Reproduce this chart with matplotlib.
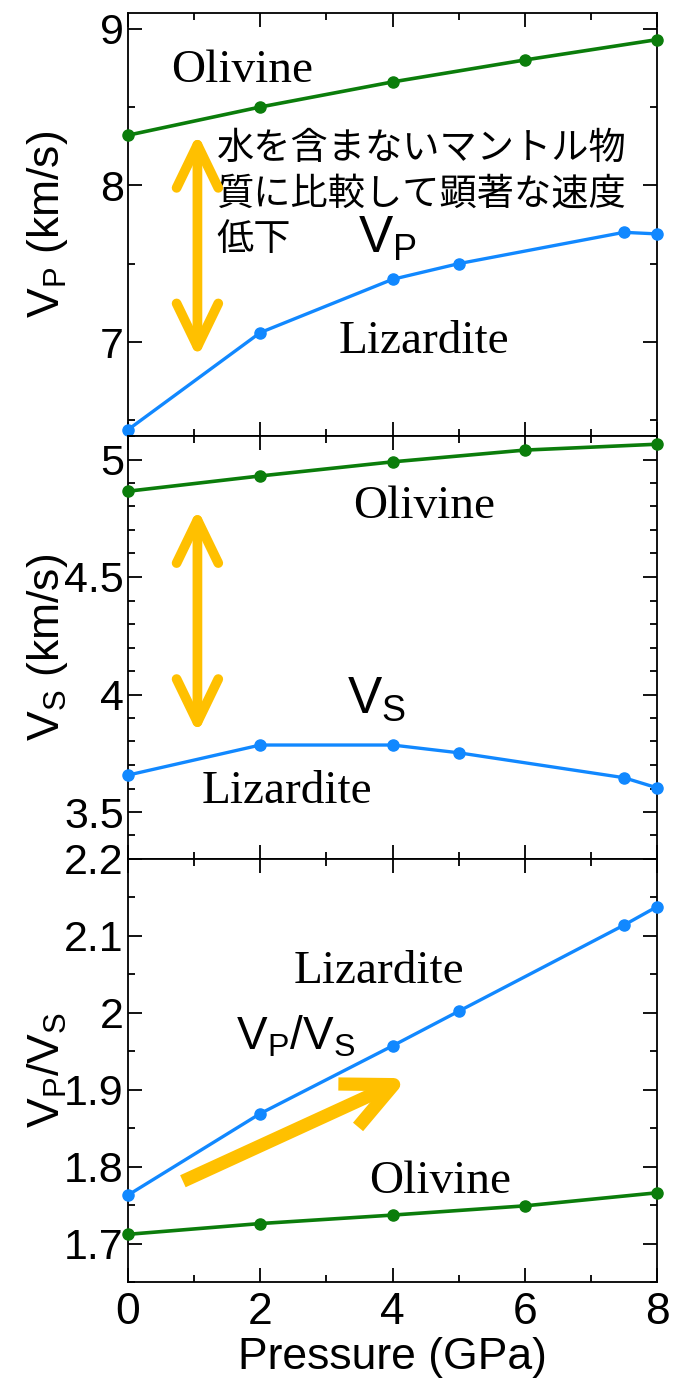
import matplotlib
matplotlib.use('Agg')
import matplotlib.pyplot as plt
from matplotlib.ticker import MultipleLocator, FixedLocator, FuncFormatter

plt.rcParams['font.family'] = ['Liberation Sans', 'DejaVu Sans']
plt.rcParams['mathtext.fontset'] = 'custom'
plt.rcParams['mathtext.rm'] = 'Liberation Sans'
plt.rcParams['mathtext.it'] = 'Liberation Sans:italic'

# data
pressure_ol = [0, 2, 4, 6, 8]
pressure_liz = [0, 2, 4, 5, 7.5, 8]

vp_ol = [8.32, 8.50, 8.66, 8.80, 8.93]
vp_liz = [6.44, 7.06, 7.40, 7.50, 7.70, 7.69]

vs_ol = [4.865, 4.93, 4.99, 5.04, 5.065]
vs_liz = [3.657, 3.785, 3.785, 3.752, 3.646, 3.603]

vpvs_ol = [1.712, 1.726, 1.737, 1.749, 1.766]
vpvs_liz = [1.763, 1.869, 1.957, 2.002, 2.114, 2.138]

note_lines = ['水を含まないマントル物', '質に比較して顕著な速度', '低下']

green = '#0b7d0b'
blue = '#1188ff'
gold = '#ffc000'
serif = 'Liberation Serif'
jp_font = ['Noto Sans CJK JP', 'DejaVu Sans']

fig = plt.figure(figsize=(6.81, 13.8), dpi=100)
gs = fig.add_gridspec(3, 1, left=128/681, right=657/681,
                      bottom=98/1380, top=1367/1380, hspace=0)
ax1 = fig.add_subplot(gs[0])
ax2 = fig.add_subplot(gs[1], sharex=ax1)
ax3 = fig.add_subplot(gs[2], sharex=ax1)

fmt = FuncFormatter(lambda v, p: '%g' % round(v, 3))

for ax in (ax1, ax2, ax3):
    for s in ax.spines.values():
        s.set_linewidth(1.3)
    ax.tick_params(which='both', direction='in', top=True, right=True, width=1.3)
    ax.tick_params(which='major', length=10)
    ax.tick_params(which='minor', length=5)
    ax.tick_params(axis='y', labelsize=31, pad=3)
    ax.tick_params(axis='x', labelsize=32, pad=7)
    ax.xaxis.set_major_locator(MultipleLocator(2))
    ax.xaxis.set_minor_locator(MultipleLocator(1))
    ax.yaxis.set_major_formatter(fmt)
    ax.set_xlim(0, 8)

for ax in (ax1, ax2):
    ax.tick_params(axis='x', labelbottom=False)


def draw(ax, ol, liz):
    ax.plot(pressure_ol, ol, '-o', color=green, lw=2.6, ms=8, clip_on=False, zorder=3)
    ax.plot(pressure_liz, liz, '-o', color=blue, lw=2.4, ms=8, clip_on=False, zorder=3)


def double_arrow(ax, x, y_top, y_bot):
    ax.annotate('', xy=(x, y_top), xytext=(x, y_bot),
                arrowprops=dict(arrowstyle='<->,head_length=31,head_width=15', lw=7,
                                color=gold, shrinkA=0, shrinkB=0, capstyle='round',
                                mutation_scale=1))


# ---- Vp
draw(ax1, vp_ol, vp_liz)
ax1.set_ylim(6.4, 9.1)
ax1.yaxis.set_major_locator(MultipleLocator(1))
ax1.yaxis.set_minor_locator(MultipleLocator(0.5))
ax1.set_ylabel(r'$\mathrm{V}_\mathrm{P}$ (km/s)', fontsize=32, va='center')
ax1.yaxis.set_label_coords(-0.153, 0.5)
ax1.text(1.72, 8.66, 'Olivine', family=serif, fontsize=34, ha='center', va='baseline')
ax1.text(4.47, 6.93, 'Lizardite', family=serif, fontsize=34, ha='center', va='baseline')
ax1.text(3.48, 7.57, r'$\mathrm{V}_\mathrm{P}$', fontsize=37, ha='left', va='baseline')
for line, yb in zip(note_lines, [8.166, 7.878, 7.59]):
    ax1.text(1.34, yb, line, family=jp_font, fontsize=26.8, ha='left', va='baseline')
double_arrow(ax1, 1.05, 8.33, 6.90)

# ---- Vs
draw(ax2, vs_ol, vs_liz)
ax2.set_ylim(3.3, 5.1)
ax2.yaxis.set_major_locator(FixedLocator([3.5, 4.0, 4.5, 5.0]))
ax2.yaxis.set_minor_locator(MultipleLocator(0.1))
ax2.set_ylabel(r'$\mathrm{V}_\mathrm{S}$ (km/s)', fontsize=32, va='center')
ax2.yaxis.set_label_coords(-0.153, 0.5)
ax2.text(4.48, 4.75, 'Olivine', family=serif, fontsize=34, ha='center', va='baseline')
ax2.text(2.41, 3.54, 'Lizardite', family=serif, fontsize=34, ha='center', va='baseline')
ax2.text(3.31, 3.924, r'$\mathrm{V}_\mathrm{S}$', fontsize=37, ha='left', va='baseline')
double_arrow(ax2, 1.05, 4.79, 3.835)

# ---- Vp/Vs
draw(ax3, vpvs_ol, vpvs_liz)
ax3.set_ylim(1.65, 2.2)
ax3.yaxis.set_major_locator(FixedLocator([1.7, 1.8, 1.9, 2.0, 2.1, 2.2]))
ax3.yaxis.set_minor_locator(MultipleLocator(0.05))
ax3.set_ylabel(r'$\mathrm{V}_\mathrm{P}/\mathrm{V}_\mathrm{S}$', fontsize=32, va='center')
ax3.yaxis.set_label_coords(-0.153, 0.5)
ax3.text(3.79, 2.039, 'Lizardite', family=serif, fontsize=34, ha='center', va='baseline')
ax3.text(4.72, 1.766, 'Olivine', family=serif, fontsize=34, ha='center', va='baseline')
ax3.text(1.63, 1.952, r'$\mathrm{V}_\mathrm{P}/\mathrm{V}_\mathrm{S}$', fontsize=33,
         ha='left', va='baseline')
ax3.annotate('', xy=(4.23, 1.915), xytext=(0.83, 1.781),
             arrowprops=dict(arrowstyle='->,head_length=36,head_width=17', lw=9.5,
                             color=gold, shrinkA=0, shrinkB=0, capstyle='butt',
                             mutation_scale=1))
ax3.set_xlabel('Pressure (GPa)', fontsize=32, labelpad=3)

fig.savefig('out.png', dpi=100)
